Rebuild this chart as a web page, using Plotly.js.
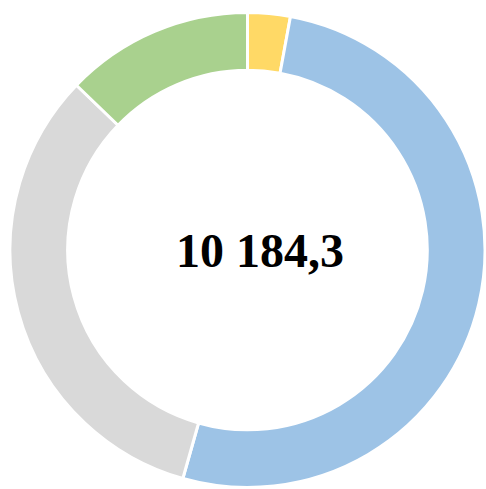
<!DOCTYPE html>
<html>
<head>
<meta charset="utf-8">
<script src="https://cdn.plot.ly/plotly-3.0.1.min.js"></script>
<style>html,body{margin:0;padding:0;background:#fff;}#chart{width:486px;height:489px;}</style>
</head>
<body>
<div id="chart"></div>
<script>
const labels = ["Segment A", "Segment B", "Segment C", "Segment D"];
const values = [295, 5244, 3342, 1303.3];
const colors = ["#FFD966", "#9DC3E6", "#D9D9D9", "#A9D18E"];
const centerLabel = "10 184,3";

const data = [{
  type: "pie",
  labels: labels,
  values: values,
  hole: 0.757,
  sort: false,
  direction: "clockwise",
  rotation: 0,
  textinfo: "none",
  hoverinfo: "label+value",
  marker: {colors: colors, line: {color: "#FFFFFF", width: 3}},
  showlegend: false
}];

const layout = {
  width: 486,
  height: 489,
  margin: {l: 10, r: 1, t: 12, b: 1},
  paper_bgcolor: "#FFFFFF",
  plot_bgcolor: "#FFFFFF",
  showlegend: false,
  annotations: [{
    text: "<b>" + centerLabel + "</b>",
    x: 0.527, y: 0.5,
    xref: "paper", yref: "paper",
    showarrow: false,
    font: {family: "Liberation Serif, Times New Roman, serif", size: 48, color: "#000000"}
  }]
};

Plotly.newPlot("chart", data, layout, {displayModeBar: false, staticPlot: true});
</script>
</body>
</html>
